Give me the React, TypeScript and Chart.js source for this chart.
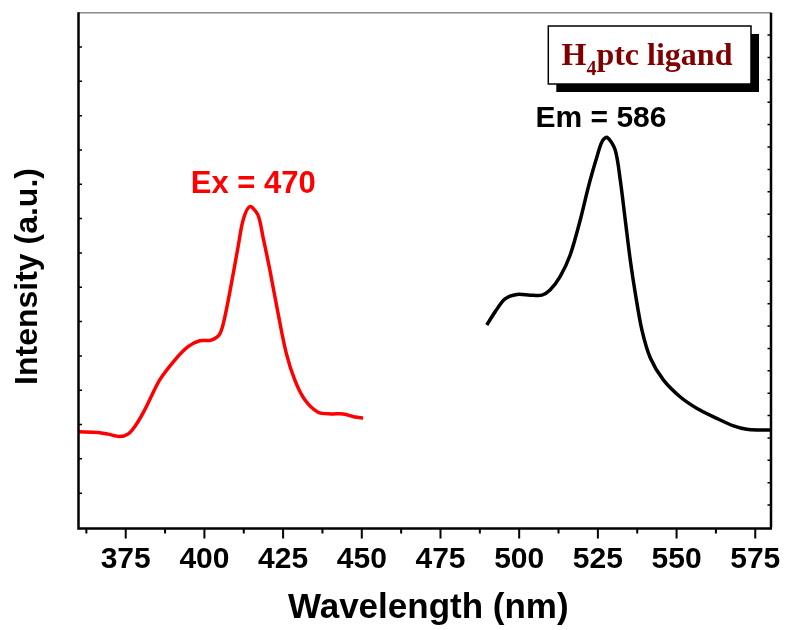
import React, { useEffect, useRef } from 'react';
import { Chart, registerables } from 'chart.js';

Chart.register(...registerables);

// ---- Data ----
const exWavelength = [360, 366.2, 369.4, 373.1, 375.7, 377.9, 381.0, 385.8, 390.6, 394.8, 398.5, 402.2, 404.9, 406.5, 408.6, 410.7, 412.3, 414.4, 417.0, 418.6, 420.8, 423.4, 426.0, 428.7, 431.9, 436.1, 440.3, 444.1, 447.8, 450.4];
const exIntensity = [2.79, 2.77, 2.72, 2.65, 2.72, 2.94, 3.42, 4.30, 4.88, 5.27, 5.44, 5.46, 5.64, 6.14, 7.12, 8.18, 8.96, 9.35, 9.11, 8.47, 7.50, 6.24, 5.08, 4.30, 3.72, 3.36, 3.31, 3.31, 3.22, 3.19];

const emWavelength = [489.7, 492.4, 495.5, 499.3, 503.5, 507.2, 509.8, 513.0, 516.2, 519.4, 522.0, 524.7, 526.3, 527.9, 530.5, 532.1, 533.7, 535.3, 536.9, 539.0, 541.7, 545.8, 551.1, 556.5, 562.8, 568.1, 572.3, 576.6, 580];
const emIntensity = [5.90, 6.29, 6.66, 6.79, 6.77, 6.77, 6.92, 7.31, 7.94, 8.96, 9.93, 10.80, 11.24, 11.37, 11.00, 10.13, 8.96, 7.79, 6.82, 5.75, 4.93, 4.30, 3.81, 3.47, 3.18, 2.96, 2.86, 2.84, 2.84];

const xMajorTicks = [375, 400, 425, 450, 475, 500, 525, 550, 575];
const xMinorTicks = [362.5, 387.5, 412.5, 437.5, 462.5, 487.5, 512.5, 537.5, 562.5];
const yLeftTicks = [1, 2, 3, 4, 5, 6, 7, 8, 9, 10, 11, 12, 13, 14];
const yRightDivisions = 23;

const xTitle = 'Wavelength (nm)';
const yTitle = 'Intensity (a.u.)';
const exLabel = 'Ex = 470';
const emLabel = 'Em = 586';
const exLabelAt = [415.5, 9.74];
const emLabelAt = [526.0, 11.68];
const legendMain = 'H';
const legendSub = '4';
const legendRest = 'ptc ligand';

const SANS = '"Liberation Sans", Arial, sans-serif';
const SERIF = '"Liberation Serif", "Times New Roman", serif';

const decorPlugin = {
  id: 'decor',
  afterDraw(chart: any) {
    const ctx = chart.ctx as CanvasRenderingContext2D;
    const { left, right, top, bottom } = chart.chartArea;
    const xs = chart.scales.x;
    const ys = chart.scales.y;
    ctx.save();

    // frame
    ctx.lineCap = 'butt';
    ctx.strokeStyle = '#8a8a8a';
    ctx.lineWidth = 1.5;
    ctx.beginPath();
    ctx.moveTo(left, top);
    ctx.lineTo(right, top);
    ctx.stroke();
    ctx.strokeStyle = '#000';
    ctx.lineWidth = 2.5;
    ctx.beginPath();
    ctx.moveTo(left, top - 0.5);
    ctx.lineTo(left, bottom + 1);
    ctx.lineTo(right + 1, bottom + 1);
    ctx.moveTo(right, top);
    ctx.lineTo(right, bottom);
    ctx.stroke();

    // left inward ticks
    ctx.lineWidth = 1.5;
    ctx.beginPath();
    for (const v of yLeftTicks) {
      const p = ys.getPixelForValue(v);
      ctx.moveTo(left, p);
      ctx.lineTo(left + 3.5, p);
    }
    // right inward ticks
    const yr = ys.max - ys.min;
    for (let i = 1; i < yRightDivisions; i++) {
      const p = ys.getPixelForValue(ys.min + (i * yr) / yRightDivisions);
      ctx.moveTo(right, p);
      ctx.lineTo(right - 3.5, p);
    }
    ctx.stroke();

    // bottom outward ticks
    ctx.lineWidth = 2;
    ctx.beginPath();
    for (const v of xMajorTicks) {
      const p = xs.getPixelForValue(v);
      ctx.moveTo(p, bottom + 1);
      ctx.lineTo(p, bottom + 11);
    }
    for (const v of xMinorTicks) {
      const p = xs.getPixelForValue(v);
      ctx.moveTo(p, bottom + 1);
      ctx.lineTo(p, bottom + 6);
    }
    ctx.stroke();

    // axis titles
    ctx.fillStyle = '#000';
    ctx.textAlign = 'center';
    ctx.textBaseline = 'alphabetic';
    ctx.font = `bold 35px ${SANS}`;
    ctx.fillText(xTitle, (left + right) / 2 + 3.5, 618);
    ctx.save();
    ctx.translate(37, 276.5);
    ctx.rotate(-Math.PI / 2);
    ctx.font = `bold 32px ${SANS}`;
    ctx.fillText(yTitle, 0, 0);
    ctx.restore();

    // peak labels
    ctx.font = `bold 31px ${SANS}`;
    ctx.fillStyle = '#ff0000';
    ctx.fillText(exLabel, xs.getPixelForValue(exLabelAt[0]), ys.getPixelForValue(exLabelAt[1]));
    ctx.font = `bold 30px ${SANS}`;
    ctx.fillStyle = '#000';
    ctx.fillText(emLabel, xs.getPixelForValue(emLabelAt[0]), ys.getPixelForValue(emLabelAt[1]));

    // legend box
    const bx = 548.3, by = 26, bw = 202.7, bh = 58, sh = 8;
    ctx.fillStyle = '#000';
    ctx.fillRect(bx + sh, by + sh, bw, bh);
    ctx.fillStyle = '#fff';
    ctx.fillRect(bx, by, bw, bh);
    ctx.strokeStyle = '#000';
    ctx.lineWidth = 1.5;
    ctx.strokeRect(bx, by, bw, bh);
    ctx.fillStyle = '#800000';
    ctx.textAlign = 'left';
    ctx.font = `bold 32px ${SERIF}`;
    let tx = 561.5;
    ctx.fillText(legendMain, tx, 65);
    tx += ctx.measureText(legendMain).width;
    ctx.font = `bold 20px ${SERIF}`;
    ctx.fillText(legendSub, tx, 75);
    tx += ctx.measureText(legendSub).width;
    ctx.font = `bold 32px ${SERIF}`;
    ctx.fillText(legendRest, tx, 65);

    ctx.restore();
  },
};

export default function App() {
  const ref = useRef<HTMLCanvasElement | null>(null);
  useEffect(() => {
    if (!ref.current) return;
    const allX = [...xMajorTicks, ...xMinorTicks].sort((a, b) => a - b);
    const chart = new Chart(ref.current, {
      type: 'line',
      data: {
        datasets: [
          {
            label: 'Ex',
            data: exWavelength.map((x, i) => ({ x, y: exIntensity[i] })),
            borderColor: '#ff0000',
            borderWidth: 3.5,
            pointRadius: 0,
            tension: 0.3,
            fill: false,
          },
          {
            label: 'Em',
            data: emWavelength.map((x, i) => ({ x, y: emIntensity[i] })),
            borderColor: '#000000',
            borderWidth: 3.5,
            pointRadius: 0,
            tension: 0.3,
            fill: false,
          },
        ],
      },
      options: {
        animation: false,
        responsive: false,
        maintainAspectRatio: false,
        layout: { padding: { top: 12.7, right: 15, left: 0, bottom: 0 } },
        plugins: { legend: { display: false }, tooltip: { enabled: false } },
        scales: {
          x: {
            type: 'linear',
            min: 360,
            max: 580,
            afterBuildTicks: (s: any) => {
              s.ticks = allX.map((v) => ({ value: v }));
            },
            afterFit: (s: any) => {
              s.height = 102.5;
              s.paddingLeft = 0;
              s.paddingRight = 0;
            },
            ticks: {
              autoSkip: false,
              maxRotation: 0,
              minRotation: 0,
              padding: 14.5,
              color: '#000',
              font: { family: SANS, weight: 'bold', size: 30 },
              callback: (v: any) => (Number(v) % 25 === 0 ? String(v) : ''),
            },
            grid: { display: false, drawTicks: false },
            border: { display: false },
          },
          y: {
            min: 0,
            max: 15,
            afterFit: (s: any) => {
              s.width = 78.5;
              s.paddingTop = 0;
              s.paddingBottom = 0;
            },
            ticks: { display: false, stepSize: 1 },
            grid: { display: false, drawTicks: false },
            border: { display: false },
          },
        },
      } as any,
      plugins: [decorPlugin],
    });
    return () => chart.destroy();
  }, []);
  return (
    <div style={{ position: 'fixed', left: 0, top: 0, width: 786, height: 630, background: '#fff' }}>
      <canvas ref={ref} width={786} height={630} style={{ width: 786, height: 630, display: 'block' }} />
    </div>
  );
}
